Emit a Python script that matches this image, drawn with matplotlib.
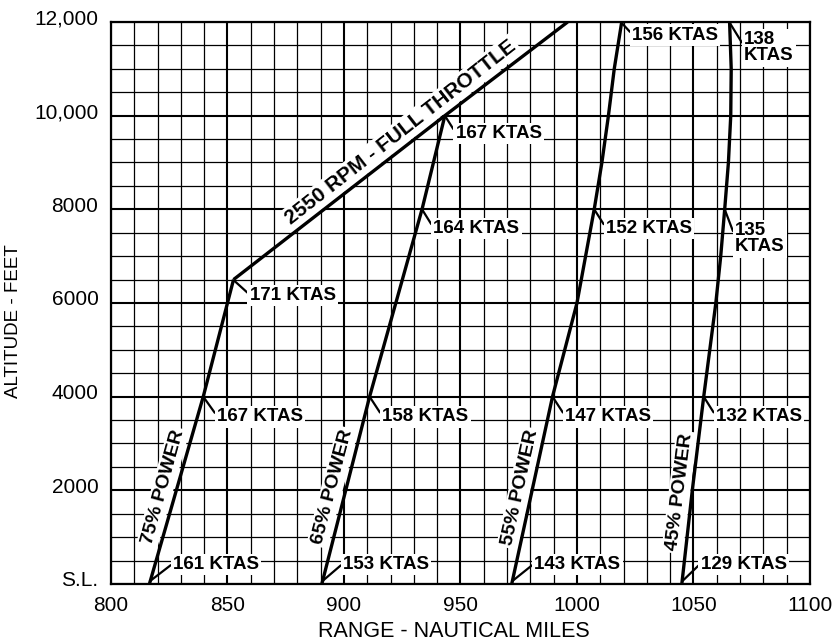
import numpy as np
import matplotlib
matplotlib.use("Agg")
import matplotlib.pyplot as plt
from matplotlib.ticker import MultipleLocator
from matplotlib.transforms import ScaledTranslation

plt.rcParams['font.family'] = ['Liberation Sans', 'DejaVu Sans']

# --- range (nm) vs altitude (ft) for each power setting ---
alt_75 = [0, 4000, 6500]
range_75 = [816.5, 839.6, 852.6]

alt_65 = [0, 4000, 8000, 10000]
range_65 = [890.5, 911.0, 933.5, 943.3]

alt_55 = [0, 4000, 6000, 8000, 9000, 10000, 11000, 12000]
range_55 = [972.0, 989.5, 1000.0, 1007.4, 1010.7, 1013.5, 1016.0, 1019.2]

alt_45 = [0, 2000, 4000, 5000, 6000, 7000, 8000, 9000, 10000, 11000, 12000]
range_45 = [1045.0, 1049.5, 1054.4, 1057.0, 1059.6, 1061.7, 1063.4, 1065.0, 1066.0, 1066.2, 1065.5]

# full-throttle boundary
alt_ft = [6500, 10000, 12000]
range_ft = [852.6, 943.3, 996.0]

# speed callouts: text, point on curve, text anchor (left/centre)
ktas_labels = [
    ("161 KTAS", (816.7, 60), (826.6, 420)),
    ("167 KTAS", (839.6, 4000), (845.5, 3570)),
    ("171 KTAS", (852.8, 6480), (859.5, 6160)),
    ("153 KTAS", (890.7, 60), (899.6, 420)),
    ("158 KTAS", (911.0, 4000), (916.4, 3570)),
    ("164 KTAS", (933.5, 8000), (938.4, 7590)),
    ("167 KTAS", (943.3, 10000), (947.9, 9620)),
    ("143 KTAS", (972.2, 60), (981.7, 420)),
    ("147 KTAS", (989.5, 4000), (994.9, 3570)),
    ("152 KTAS", (1007.4, 8000), (1012.4, 7590)),
    ("156 KTAS", (1019.2, 11980), (1023.7, 11720)),
    ("129 KTAS", (1045.2, 60), (1053.1, 420)),
    ("132 KTAS", (1054.4, 4000), (1059.6, 3570)),
    ("135\nKTAS", (1063.4, 8000), (1067.9, 7374)),
    ("138\nKTAS", (1065.6, 11980), (1071.7, 11450)),
]

# power-setting captions: text, centre, angle on screen
power_labels = [
    ("75% POWER", (822.3, 2070), 74.5),
    ("65% POWER", (895.0, 2070), 75.3),
    ("55% POWER", (975.5, 2050), 77.6),
    ("45% POWER", (1044.0, 1960), 82.9),
]

x_ticks = [800, 850, 900, 950, 1000, 1050, 1100]
y_ticks = [0, 2000, 4000, 6000, 8000, 10000, 12000]
y_tick_labels = ["S.L.", "2000", "4000", "6000", "8000", "10,000", "12,000"]

fig = plt.figure(figsize=(8.37, 6.43), dpi=100)
fig.patch.set_facecolor('white')
ax = fig.add_axes([0.1326, 0.0918, 0.8351, 0.874])

ax.set_xlim(800, 1100)
ax.set_ylim(0, 12000)

# graph-paper grid: 10 nm by 500 ft, heavier every 50 nm / 2000 ft
ax.xaxis.set_minor_locator(MultipleLocator(10))
ax.yaxis.set_minor_locator(MultipleLocator(500))
ax.set_xticks(x_ticks)
ax.set_yticks(y_ticks)
ax.set_yticklabels(y_tick_labels)
ax.grid(which='minor', color='black', lw=0.9)
ax.grid(which='major', color='black', lw=1.5)
ax.set_axisbelow(True)
ax.tick_params(which='both', length=0)
ax.tick_params(axis='x', pad=9, labelsize=15)
ax.tick_params(axis='y', pad=9, labelsize=15)
for lbl in ax.get_yticklabels():
    lbl.set_transform(lbl.get_transform() + ScaledTranslation(0, 5 / 100, fig.dpi_scale_trans))
for sp in ax.spines.values():
    sp.set_linewidth(1.6)

# curves
line_kw = dict(color='black', lw=2.4, solid_capstyle='butt', solid_joinstyle='round', zorder=3)
ax.plot(range_75, alt_75, **line_kw)
ax.plot(range_65, alt_65, **line_kw)
ax.plot(range_55, alt_55, **line_kw)
ax.plot(range_45, alt_45, **line_kw)
ax.plot(range_ft, alt_ft, **line_kw)

# labels sit on white patches above the grid but under the curves
box = dict(boxstyle='square,pad=0.12', facecolor='white', edgecolor='none')

for text, pt, txt_pos in ktas_labels:
    ax.annotate(text, xy=pt, xytext=txt_pos, fontsize=13.5, fontweight='bold',
                ha='left', va='center', linespacing=0.95, bbox=box, zorder=2,
                arrowprops=dict(arrowstyle='-', lw=1.6, color='black',
                                relpos=(0, 0.55), shrinkA=0, shrinkB=0))

for text, pos, ang in power_labels:
    ax.text(pos[0], pos[1], text, fontsize=14, fontweight='bold', rotation=ang,
            ha='center', va='center', bbox=box, zorder=2)

ax.text(924.5, 9644, "2550 RPM - FULL THROTTLE", fontsize=15, fontweight='bold',
        rotation=38.0, ha='center', va='center', bbox=box, zorder=2)

ax.set_xlabel("RANGE - NAUTICAL MILES", fontsize=15.5)
ax.set_ylabel("ALTITUDE - FEET", fontsize=13.5)
ax.xaxis.set_label_coords(0.49, -0.066)
ax.yaxis.set_label_coords(-0.127, 0.468)

fig.savefig('out.png', dpi=100, facecolor='white')
